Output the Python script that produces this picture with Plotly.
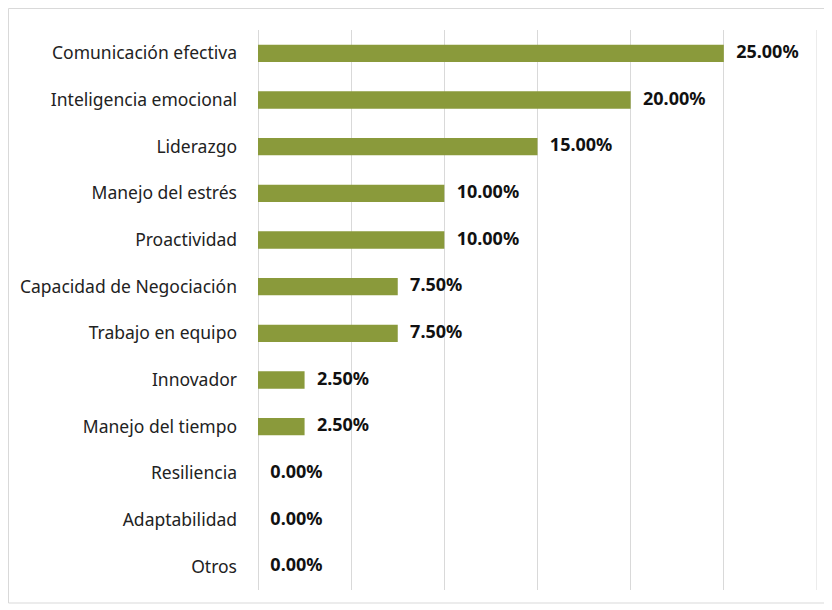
import plotly.graph_objects as go

categories = ["Comunicación efectiva", "Inteligencia emocional", "Liderazgo", "Manejo del estrés",
              "Proactividad", "Capacidad de Negociación", "Trabajo en equipo", "Innovador",
              "Manejo del tiempo", "Resiliencia", "Adaptabilidad", "Otros"]
values = [0.25, 0.20, 0.15, 0.10, 0.10, 0.075, 0.075, 0.025, 0.025, 0.0, 0.0, 0.0]
value_labels = ["25.00%", "20.00%", "15.00%", "10.00%", "10.00%", "7.50%", "7.50%",
                "2.50%", "2.50%", "0.00%", "0.00%", "0.00%"]

FONT = "Noto Sans"
W, H = 824, 602
L, R, T, B = 250, 15, 22, 20
PW, PH = W - L - R, H - T - B

fig = go.Figure()
fig.add_trace(go.Bar(
    x=values, y=categories, orientation="h",
    marker=dict(color="#8A9A3B", line=dict(width=0)),
    hoverinfo="skip",
))
fig.add_trace(go.Scatter(
    x=values, y=categories, mode="text",
    text=["\u00a0\u00a0\u2009" + t for t in value_labels],
    textposition="middle right",
    textfont=dict(family=FONT, size=18, color="#111111", weight="bold"),
    hoverinfo="skip", cliponaxis=False,
))

fig.update_layout(
    width=W, height=H,
    margin=dict(l=L, r=R, t=T, b=B),
    paper_bgcolor="white", plot_bgcolor="white",
    showlegend=False,
    bargap=0.63,
    font=dict(family=FONT, size=17.5, color="#222222"),
    xaxis=dict(range=[0, 0.30], dtick=0.05, tick0=0, showticklabels=False,
               showgrid=True, gridcolor="#d9d9d9", gridwidth=1,
               zeroline=True, zerolinecolor="#d9d9d9", zerolinewidth=1,
               showline=False, ticks="", fixedrange=True),
    yaxis=dict(range=[len(categories) - 0.5, -0.5], showgrid=False, zeroline=False, showline=False,
               ticks="", ticklabelstandoff=20,
               tickfont=dict(family=FONT, size=17.5, color="#222222")),
    shapes=[
        dict(type="rect", xref="paper", yref="paper",
             x0=(0.5 - L) / PW, x1=(820 - L) / PW,
             y0=(T + PH - 595) / PH, y1=(T + PH - 0.5) / PH,
             line=dict(color="#d9d9d9", width=1), fillcolor="rgba(0,0,0,0)", layer="below"),
        dict(type="line", xref="x", yref="paper", x0=0.30, x1=0.30, y0=0, y1=1,
             line=dict(color="#d9d9d9", width=1), layer="below"),
    ],
)
fig.write_html("out.html")
